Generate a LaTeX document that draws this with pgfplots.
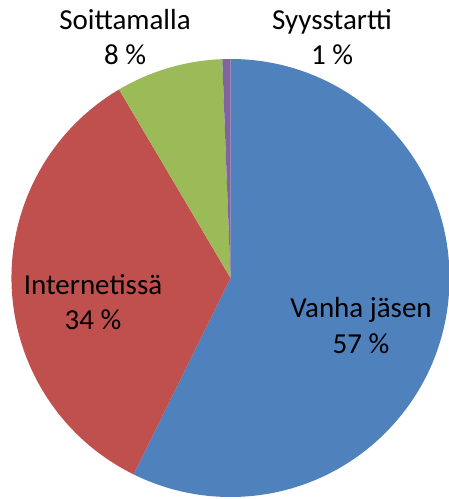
\documentclass[border=0pt]{standalone}
\usepackage{pgfplots}
\pgfplotsset{compat=1.18}
\usepackage{fontspec}
\setmainfont{Carlito}

\definecolor{cblue}{HTML}{4F81BD}
\definecolor{cred}{HTML}{C0504D}
\definecolor{cgreen}{HTML}{9BBB59}
\definecolor{cpurple}{HTML}{8064A2}

% shares in percent, clockwise from the top
\def\vVanha{57.3}
\def\vInternet{34.2}
\def\vSoitto{7.9}
\def\vSyys{0.6}

\begin{document}
\begin{tikzpicture}
\pgfmathsetmacro\aA{90-\vVanha*3.6}
\pgfmathsetmacro\aB{\aA-\vInternet*3.6}
\pgfmathsetmacro\aC{\aB-\vSoitto*3.6}
\pgfmathsetmacro\aD{\aC-\vSyys*3.6}
\begin{axis}[
    x=1bp, y=1bp,
    xmin=0, xmax=449, ymin=0, ymax=499,
    hide axis, clip=false,
    scale only axis,
]
\coordinate (bl) at (axis cs:0,0);
\coordinate (tr) at (axis cs:449,499);

\fill[cblue] (axis cs:230.5,221) -- ++(90:219bp) arc[start angle=90, end angle=\aA, radius=219bp] -- cycle;
\fill[cred] (axis cs:230.5,221) -- ++(\aA:219bp) arc[start angle=\aA, end angle=\aB, radius=219bp] -- cycle;
\fill[cgreen] (axis cs:230.5,221) -- ++(\aB:219bp) arc[start angle=\aB, end angle=\aC, radius=219bp] -- cycle;
\fill[cpurple] (axis cs:230.5,221) -- ++(\aC:219bp) arc[start angle=\aC, end angle=\aD, radius=219bp] -- cycle;

\begin{scope}[every node/.style={anchor=base, inner sep=0pt, font=\fontsize{29bp}{35bp}\selectfont}]
\node at (axis cs:125,469) {Soittamalla};
\node at (axis cs:125,434) {8 \%};
\node at (axis cs:332,469) {Syysstartti};
\node at (axis cs:332,434) {1 \%};
\node at (axis cs:93,204) {Internetissä};
\node at (axis cs:93,169) {34 \%};
\node at (axis cs:361,181) {Vanha jäsen};
\node at (axis cs:361,145) {57 \%};
\end{scope}
\end{axis}
\pgfresetboundingbox
\path[use as bounding box] (bl) rectangle (tr);
\end{tikzpicture}
\end{document}
